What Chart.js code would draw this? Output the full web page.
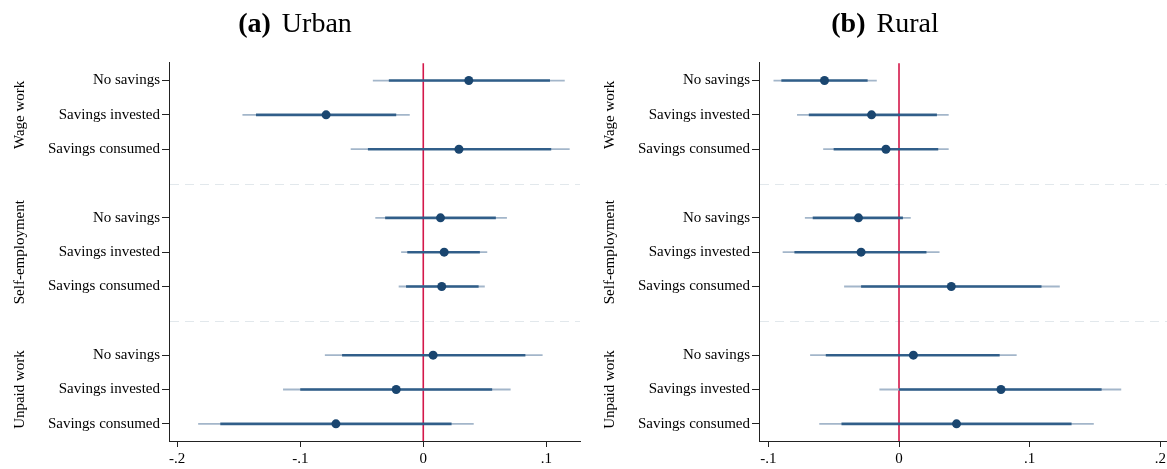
<!DOCTYPE html>
<html><head><meta charset="utf-8">
<script src="https://cdn.jsdelivr.net/npm/chart.js@4"></script>
<style>
html,body{margin:0;padding:0;background:#fff;overflow:hidden;width:1167px;height:469px;}
#wrap{position:relative;width:1167px;height:469px;overflow:hidden;background:#fff;}
.panel{position:absolute;top:0;width:590px;height:469px;}
canvas{display:block;}
</style></head><body>
<div id="wrap">
<div class="panel" style="left:0"><canvas id="c1" width="590" height="469"></canvas></div>
<div class="panel" style="left:590px"><canvas id="c2" width="590" height="469"></canvas></div>
</div>
<script>
// ---- categories ----
const rowLabels = ['No savings','Savings invested','Savings consumed',
                   'No savings','Savings invested','Savings consumed',
                   'No savings','Savings invested','Savings consumed'];
const rowPos = [1,2,3,5,6,7,9,10,11];
const groupLabels = ['Wage work','Self-employment','Unpaid work'];
const groupPos = [2,6,10];
const separatorPos = [4,8];
const refValue = 0;

// ---- Urban panel ----
const urbanCoef = [0.037,-0.079,0.029, 0.014,0.017,0.015, 0.008,-0.022,-0.071];
const urbanLo95 = [-0.041,-0.147,-0.059, -0.039,-0.018,-0.020, -0.080,-0.114,-0.183];
const urbanHi95 = [0.115,-0.011,0.119, 0.068,0.052,0.050, 0.097,0.071,0.041];
const urbanLo90 = [-0.028,-0.136,-0.045, -0.031,-0.013,-0.014, -0.066,-0.100,-0.165];
const urbanHi90 = [0.103,-0.022,0.104, 0.059,0.046,0.045, 0.083,0.056,0.023];
const urbanXTicks = [-0.2,-0.1,0,0.1];
const urbanXLabels = ['-.2','-.1','0','.1'];

// ---- Rural panel ----
const ruralCoef = [-0.057,-0.021,-0.010, -0.031,-0.029,0.040, 0.011,0.078,0.044];
const ruralLo95 = [-0.096,-0.078,-0.058, -0.072,-0.089,-0.042, -0.068,-0.015,-0.061];
const ruralHi95 = [-0.017,0.038,0.038, 0.009,0.031,0.123, 0.090,0.170,0.149];
const ruralLo90 = [-0.090,-0.069,-0.050, -0.066,-0.080,-0.029, -0.056,0.000,-0.044];
const ruralHi90 = [-0.024,0.029,0.030, 0.003,0.021,0.109, 0.077,0.155,0.132];
const ruralXTicks = [-0.1,0,0.1,0.2];
const ruralXLabels = ['-.1','0','.1','.2'];

// ---- styles ----
const SERIF = '"Liberation Serif", "Times New Roman", serif';
const navy = '#1a4670';
const thickCol = 'rgba(36,84,130,0.9)';
const thinCol = '#a3b6ca';
const redCol = '#d4184a';
const axisCol = '#222';

const decor = {
  id: 'decor',
  beforeDatasetsDraw(chart, args, o) {
    const {ctx, chartArea: a, scales: {y}} = chart;
    ctx.save();
    ctx.strokeStyle = '#e2e8ec';
    ctx.lineWidth = 1;
    ctx.setLineDash([9, 6]);
    separatorPos.forEach(v => {
      const py = Math.round(y.getPixelForValue(v)) + 0.5;
      ctx.beginPath(); ctx.moveTo(a.left + 1, py); ctx.lineTo(a.right, py); ctx.stroke();
    });
    ctx.restore();
  },
  afterDraw(chart, args, o) {
    const {ctx, scales: {y}} = chart;
    const W = chart.width;
    ctx.save();
    ctx.fillStyle = '#000';
    ctx.textBaseline = 'middle';
    // title
    const boldF = 'bold 28px ' + SERIF, regF = '28px ' + SERIF;
    ctx.font = boldF; const w1 = ctx.measureText(o.tag).width;
    ctx.font = regF; const w2 = ctx.measureText(o.name).width;
    const gap = 11;
    let x0 = W / 2 - (w1 + gap + w2) / 2;
    ctx.textAlign = 'left';
    ctx.font = boldF; ctx.fillText(o.tag, x0, 25);
    ctx.font = regF; ctx.fillText(o.name, x0 + w1 + gap, 25);
    // group labels
    ctx.font = '15px ' + SERIF;
    ctx.textAlign = 'center';
    groupLabels.forEach((g, i) => {
      const py = y.getPixelForValue(groupPos[i]);
      ctx.save(); ctx.translate(20, py); ctx.rotate(-Math.PI / 2);
      ctx.fillText(g, 0, 0); ctx.restore();
    });
    ctx.restore();
  }
};

function makeChart(id, coef, lo95, hi95, lo90, hi90, xmin, xmax, xTicks, xLabels, tag, name) {
  const ds = [];
  ds.push({ data: rowPos.map((p, i) => ({x: coef[i], y: p})), showLine: false,
            pointRadius: 4.5, pointBackgroundColor: navy, pointBorderWidth: 0, order: 0 });
  rowPos.forEach((p, i) => {
    ds.push({ data: [{x: lo90[i], y: p}, {x: hi90[i], y: p}], showLine: true,
              borderColor: thickCol, borderWidth: 2.6, pointRadius: 0, order: 1 });
    ds.push({ data: [{x: lo95[i], y: p}, {x: hi95[i], y: p}], showLine: true,
              borderColor: thinCol, borderWidth: 1.8, pointRadius: 0, order: 2 });
  });
  ds.push({ data: [{x: refValue, y: 0.5}, {x: refValue, y: 11.5}], showLine: true,
            borderColor: redCol, borderWidth: 1.6, pointRadius: 0, order: 3 });

  return new Chart(document.getElementById(id), {
    type: 'scatter',
    data: { datasets: ds },
    options: {
      responsive: false, animation: false, devicePixelRatio: 1,
      layout: { padding: { top: 62, right: 10, left: 0, bottom: 0 } },
      plugins: { legend: { display: false }, tooltip: { enabled: false }, decor: { tag, name } },
      scales: {
        x: {
          type: 'linear', min: xmin, max: xmax,
          afterBuildTicks: s => { s.ticks = xTicks.map(v => ({value: v})); },
          afterFit: s => { s.height = 28; s.paddingLeft = 0; s.paddingRight = 0; },
          ticks: { autoSkip: false, maxRotation: 0, padding: 3, color: '#000',
                   font: { family: SERIF, size: 15 },
                   callback: (v) => { const k = xTicks.findIndex(t => Math.abs(t - v) < 1e-9); return k >= 0 ? xLabels[k] : ''; } },
          grid: { display: true, drawOnChartArea: false, drawTicks: true, tickLength: 6, tickColor: axisCol, tickWidth: 1 },
          border: { display: true, color: axisCol, width: 1 }
        },
        y: {
          type: 'linear', reverse: true, min: 0.46, max: 11.5,
          afterBuildTicks: s => { s.ticks = rowPos.map(v => ({value: v})); },
          afterFit: s => { s.width = 169; s.paddingTop = 0; s.paddingBottom = 0; },
          ticks: { autoSkip: false, padding: 2, color: '#000',
                   font: { family: SERIF, size: 15 },
                   callback: (v) => { const k = rowPos.indexOf(v); return k >= 0 ? rowLabels[k] : ''; } },
          grid: { display: true, drawOnChartArea: false, drawTicks: true, tickLength: 7, tickColor: axisCol, tickWidth: 1 },
          border: { display: true, color: axisCol, width: 1 }
        }
      }
    },
    plugins: [decor]
  });
}

makeChart('c1', urbanCoef, urbanLo95, urbanHi95, urbanLo90, urbanHi90, -0.2067, 0.1274, urbanXTicks, urbanXLabels, '(a)', 'Urban');
makeChart('c2', ruralCoef, ruralLo95, ruralHi95, ruralLo90, ruralHi90, -0.1071, 0.2073, ruralXTicks, ruralXLabels, '(b)', 'Rural');
</script>
</body></html>
